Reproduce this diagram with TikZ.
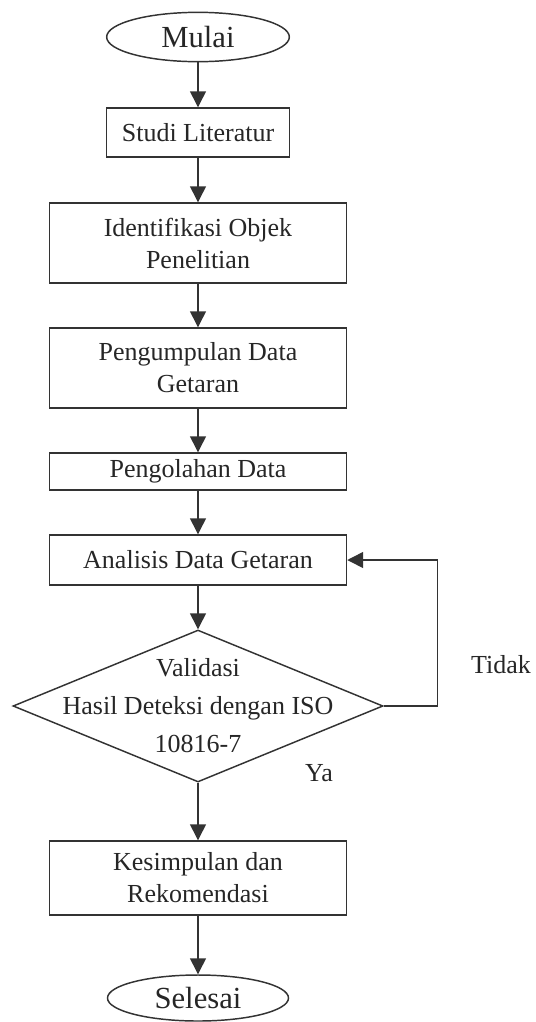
\documentclass[tikz,border=0pt]{standalone}
\usepackage{fontspec}
\setmainfont{Liberation Serif}
\usetikzlibrary{shapes.geometric,arrows.meta}
\begin{document}
\begin{tikzpicture}[x=0.75pt,y=-0.75pt,
  every node/.style={font=\fontsize{19.5pt}{24pt}\selectfont, text=black!85},
  procbox/.style={draw=black!80, rectangle, line width=1.1pt, minimum width=222.75pt, inner sep=0pt, align=center},
  terminal/.style={draw=black!80, ellipse, line width=1.1pt, minimum width=137pt, minimum height=37pt, inner sep=0pt, font=\fontsize{23pt}{27pt}\selectfont},
  decision/.style={draw=black!80, diamond, line width=1.1pt, minimum width=277.5pt, minimum height=114pt, inner sep=0pt},
  flow/.style={draw=black!80, line width=1.1pt, -{Triangle[width=12pt,length=12pt]}},
]
\useasboundingbox (0,0) rectangle (536,1022);

\node[terminal] (mulai) at (198,37) {Mulai};
\node[procbox, minimum width=137.25pt, minimum height=36.75pt] (studi) at (198,132.5) {Studi Literatur};
\node[procbox, minimum height=60pt] (ident) at (198,243) {Identifikasi Objek\\Penelitian};
\node[procbox, minimum height=60pt] (kumpul) at (198,368) {Pengumpulan Data\\Getaran};
\node[procbox, minimum height=27.75pt] (olah) at (198,471.5) {Pengolahan Data};
\node[procbox, minimum height=37.5pt] (analisis) at (198,560) {Analisis Data Getaran};
\node[decision] (valid) at (198,706) {};
\node[align=center] (validtext) at (198,706) {Validasi\\[4.5pt]Hasil Deteksi dengan ISO\\[4.5pt]10816-7};
\node[procbox, minimum height=55.5pt] (simpul) at (198,878) {Kesimpulan dan\\Rekomendasi};
\node[terminal, minimum width=135.75pt, minimum height=34.5pt] (selesai) at (198,998) {Selesai};
\node (tidak) at (501,665) {Tidak};
\node (ya) at (319,773) {Ya};

\draw[flow] (mulai) -- (studi);
\draw[flow] (studi) -- (ident);
\draw[flow] (ident) -- (kumpul);
\draw[flow] (kumpul) -- (olah);
\draw[flow] (olah) -- (analisis);
\draw[flow] (analisis) -- (valid);
\draw[flow] (valid) -- (simpul);
\draw[flow] (simpul) -- (selesai);
\draw[flow] (valid.east) -- ++(54,0) |- (analisis.east);
\end{tikzpicture}
\end{document}
